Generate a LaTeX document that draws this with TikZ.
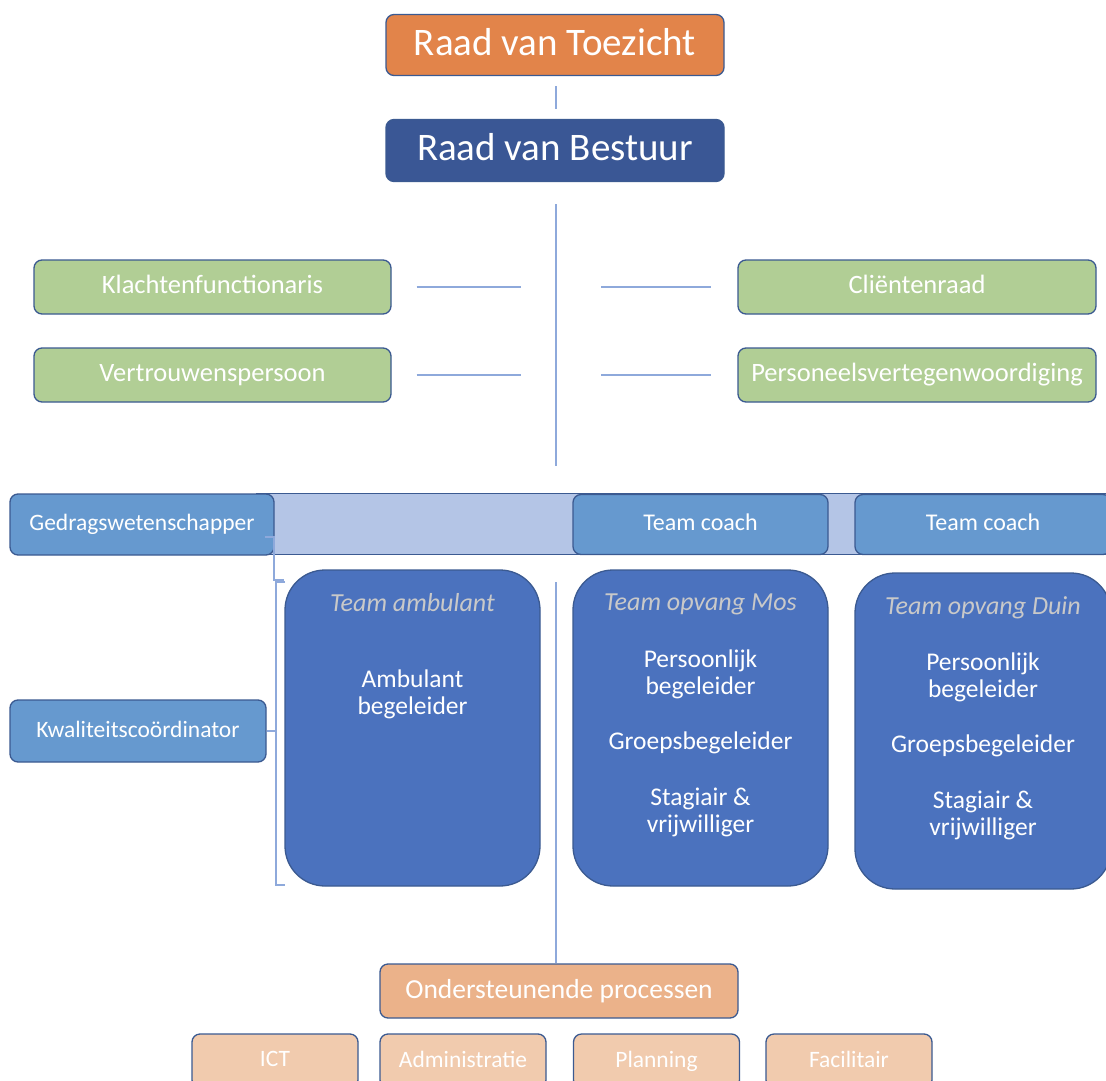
\documentclass[tikz,border=0pt]{standalone}
\usepackage{fontspec}
\setmainfont{Carlito}
\definecolor{orangec}{HTML}{E2844A}
\definecolor{dblue}{HTML}{3A5795}
\definecolor{greenc}{HTML}{B1CE95}
\definecolor{midblue}{HTML}{6699CF}
\definecolor{bandc}{HTML}{B4C5E6}
\definecolor{teamc}{HTML}{4B72BE}
\definecolor{ondc}{HTML}{EBB28A}
\definecolor{peach}{HTML}{F1CBAE}
\definecolor{bordc}{HTML}{3B5A91}
\definecolor{linec}{HTML}{8EA9DB}
\definecolor{titlec}{HTML}{C9C9C9}
\begin{document}
\begin{tikzpicture}[x=1pt,y=-1pt,
  box/.style={draw=bordc, line width=1.3pt, rounded corners=8pt, text=white, inner sep=0pt, align=center, rectangle, execute at begin node={\vphantom{Tg}}},
  bigbox/.style={draw=bordc, line width=1.3pt, rounded corners=40pt, inner sep=0pt, rectangle},
  conn/.style={draw=linec, line width=1.5pt},
  ttl/.style={text=titlec, font=\fontsize{26}{30}\selectfont\itshape, inner sep=0pt},
  body/.style={text=white, font=\fontsize{25.5}{27}\selectfont, align=center, inner sep=0pt}
]
\useasboundingbox[fill=white] (0,0) rectangle (1106,1081);

% top
\node[box, fill=orangec, minimum width=338pt, minimum height=61pt, font=\fontsize{39}{44}\selectfont] (rvt) at (555,45) {Raad van Toezicht};
\node[box, fill=dblue, minimum width=338pt, minimum height=62pt, font=\fontsize{39}{44}\selectfont] (rvb) at (555,150.5) {Raad van Bestuur};
\draw[conn, shorten <=10pt, shorten >=10pt] (rvt.south -| 556,0) -- (rvb.north -| 556,0);

% green
\begin{scope}[every node/.style={box, fill=greenc, minimum height=54pt, font=\fontsize{26.5}{30}\selectfont}]
\node[minimum width=357pt] (klacht) at (212.5,287) {Klachtenfunctionaris};
\node[minimum width=357pt] (vertr) at (212.5,375) {Vertrouwenspersoon};
\node[minimum width=358pt] (client) at (917,287) {Cliëntenraad};
\node[minimum width=358pt] (pers) at (917,375) {Personeelsvertegenwoordiging};
\end{scope}
\coordinate (hk) at (521,286);
\coordinate (hc) at (601,286);
\draw[conn, shorten <=25pt] (klacht.east) -- (hk |- klacht.east);
\draw[conn, shorten <=25pt] (vertr.east) -- (hk |- vertr.east);
\draw[conn, shorten >=26pt] (hc |- client.west) -- (client.west);
\draw[conn, shorten >=26pt] (hc |- pers.west) -- (pers.west);

% main spine
\coordinate (m1) at (556,466);
\coordinate (m2) at (556,582);
\draw[conn, shorten <=22pt] (rvb.south -| m1) -- (m1);

% band
\node[draw=bordc, line width=0.8pt, fill=bandc, minimum width=860pt, minimum height=61pt, inner sep=0pt] (band) at (686,523.5) {};
\node[box, fill=midblue, minimum width=264pt, minimum height=61pt, font=\fontsize{23.5}{27}\selectfont] (gedrag) at (142,524.5) {Gedragswetenschapper};
\node[box, fill=midblue, minimum width=255pt, minimum height=60pt, font=\fontsize{24}{27}\selectfont] (coach1) at (700.5,524.5) {Team coach};
\node[box, fill=midblue, minimum width=256pt, minimum height=60pt, font=\fontsize{24}{27}\selectfont] (coach2) at (983,524.5) {Team coach};

% teams
\node[bigbox, fill=teamc, minimum width=255pt, minimum height=316pt] (amb) at (412.5,728) {};
\node[bigbox, fill=teamc, minimum width=255pt, minimum height=316pt] (mos) at (700.5,728) {};
\node[bigbox, fill=teamc, minimum width=256pt, minimum height=316pt] (duin) at (983,731) {};
\node[ttl] (ambT) at (412.5,603) {Team ambulant};
\node[ttl] (mosT) at (700.5,604) {Team opvang Mos};
\node[ttl] (duinT) at (983,608) {Team opvang Duin};
\node[body] (ambB) at (412.5,694) {Ambulant\\begeleider};
\node[body] (mosB) at (700.5,743) {Persoonlijk\\begeleider\\[28pt]Groepsbegeleider\\[29pt]Stagiair \&\\vrijwilliger};
\node[body] (duinB) at (983,746) {Persoonlijk\\begeleider\\[28pt]Groepsbegeleider\\[29pt]Stagiair \&\\vrijwilliger};

\node[box, fill=midblue, minimum width=256pt, minimum height=62pt, font=\fontsize{23.5}{27}\selectfont] (kwal) at (138,731) {Kwaliteitscoördinator};

% brackets
\coordinate (b1) at (274,537);
\coordinate (b2) at (276,582);
\coordinate (b3) at (276,885);
\draw[conn, line width=1.1pt] ([xshift=-9pt]b1) -- (b1) -- (b1 |- 0,580) -- (amb.west |- 0,580);
\draw[conn, line width=1.1pt] ([xshift=9pt]b2) -- (b2) -- (b3) -- ([xshift=9pt]b3);
\draw[conn, line width=1.1pt] (kwal.east) -- (b2 |- kwal.east);

% bottom
\node[box, fill=ondc, minimum width=358pt, minimum height=54pt, font=\fontsize{27.5}{30}\selectfont] (ond) at (559,991) {Ondersteunende processen};
\draw[conn] (m2) -- (m2 |- ond.north);
\begin{scope}[every node/.style={box, fill=peach, minimum width=166pt, minimum height=54pt, font=\fontsize{23.5}{27}\selectfont}]
\node (ict) at (275,1061) {ICT};
\node (adm) at (463,1061) {Administratie};
\node (plan) at (656.5,1061) {Planning};
\node (fac) at (849,1061) {Facilitair};
\end{scope}
\end{tikzpicture}
\end{document}
